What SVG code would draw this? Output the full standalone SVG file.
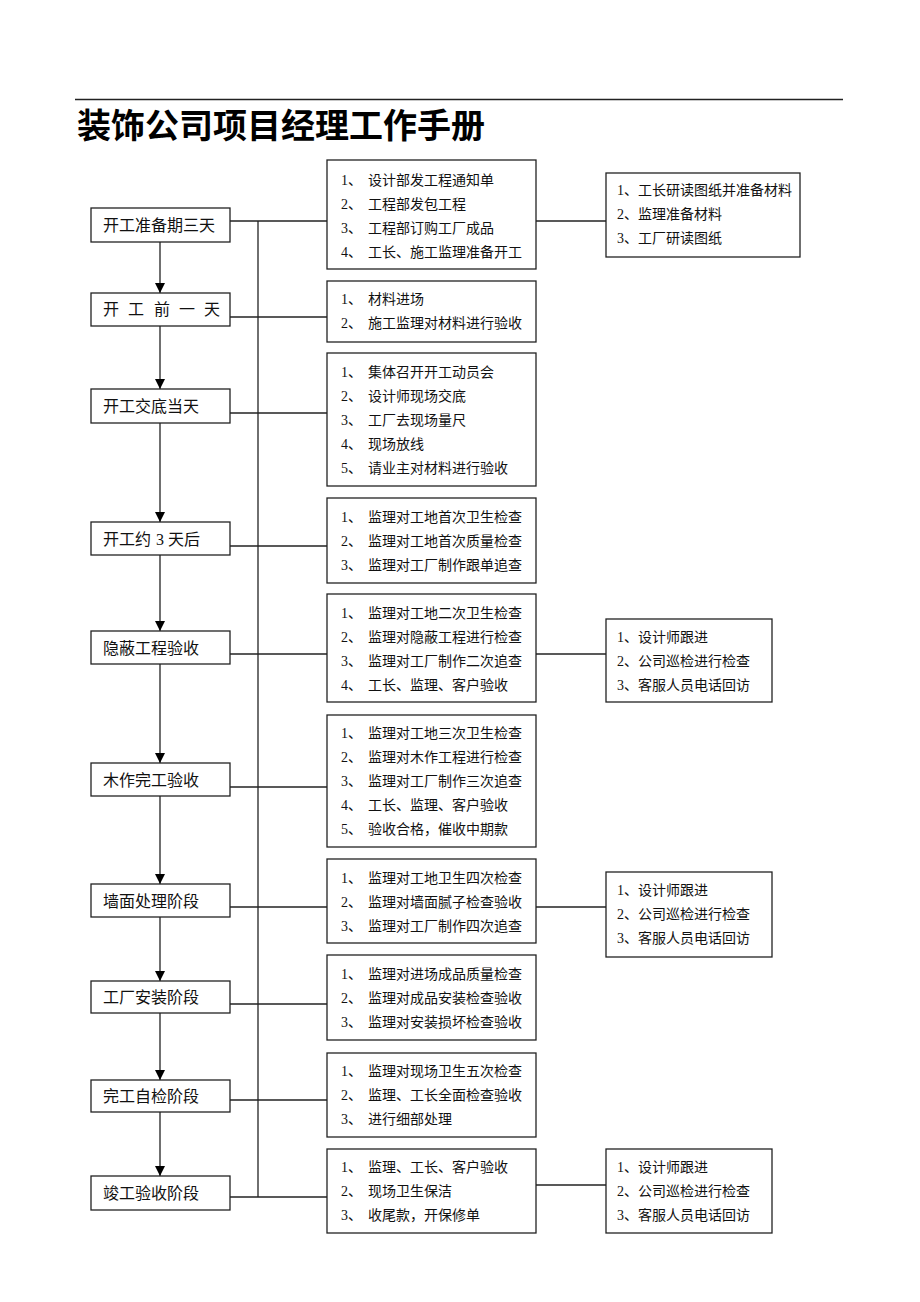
<svg xmlns="http://www.w3.org/2000/svg" width="920" height="1302" viewBox="0 0 920 1302">
<style>
.bg{fill:#fff}
.box{fill:#fff;stroke:#222;stroke-width:1.3}
.ln{stroke:#222;stroke-width:1.3;fill:none}
.t{font-family:"Liberation Serif","Noto Sans CJK SC",serif;font-size:14px;fill:#111}
.lt{font-family:"Liberation Serif","Noto Sans CJK SC",serif;font-size:16px;fill:#111}
.title{font-family:"Liberation Sans","Noto Sans CJK SC",sans-serif;font-size:34px;font-weight:bold;fill:#000}
</style>
<defs>
<marker id="ah" viewBox="0 0 10 10" refX="10" refY="5" markerWidth="10" markerHeight="10" markerUnits="userSpaceOnUse" orient="auto">
<path d="M0,0 L10,5 L0,10 Z" fill="#000"/>
</marker>
</defs>
<rect class="bg" x="0" y="0" width="920" height="1302"/>
<line class="ln" x1="75" y1="99.5" x2="843" y2="99.5"/>
<text class="title" x="77" y="138">装饰公司项目经理工作手册</text>

<g id="connectors">
<line class="ln" x1="258" y1="221" x2="258" y2="1197"/>
<line class="ln" x1="230" y1="221" x2="327" y2="221"/>
<line class="ln" x1="230" y1="317" x2="327" y2="317"/>
<line class="ln" x1="230" y1="413" x2="327" y2="413"/>
<line class="ln" x1="230" y1="546" x2="327" y2="546"/>
<line class="ln" x1="230" y1="654" x2="327" y2="654"/>
<line class="ln" x1="230" y1="787" x2="327" y2="787"/>
<line class="ln" x1="230" y1="907" x2="327" y2="907"/>
<line class="ln" x1="230" y1="1004" x2="327" y2="1004"/>
<line class="ln" x1="230" y1="1100" x2="327" y2="1100"/>
<line class="ln" x1="230" y1="1197" x2="327" y2="1197"/>
<line class="ln" x1="536" y1="221" x2="606" y2="221"/>
<line class="ln" x1="536" y1="654" x2="606" y2="654"/>
<line class="ln" x1="536" y1="907" x2="606" y2="907"/>
<line class="ln" x1="536" y1="1185" x2="606" y2="1185"/>
<line class="ln" x1="160" y1="242" x2="160" y2="293" marker-end="url(#ah)"/>
<line class="ln" x1="160" y1="326" x2="160" y2="389" marker-end="url(#ah)"/>
<line class="ln" x1="160" y1="423" x2="160" y2="522" marker-end="url(#ah)"/>
<line class="ln" x1="160" y1="555" x2="160" y2="631" marker-end="url(#ah)"/>
<line class="ln" x1="160" y1="664" x2="160" y2="763" marker-end="url(#ah)"/>
<line class="ln" x1="160" y1="796" x2="160" y2="884" marker-end="url(#ah)"/>
<line class="ln" x1="160" y1="917" x2="160" y2="981" marker-end="url(#ah)"/>
<line class="ln" x1="160" y1="1013" x2="160" y2="1080" marker-end="url(#ah)"/>
<line class="ln" x1="160" y1="1112" x2="160" y2="1176" marker-end="url(#ah)"/>
</g>

<g id="stage1"><rect class="box" x="91" y="208" width="139" height="34"/><text class="lt" x="103" y="231">开工准备期三天</text></g>
<g id="stage2"><rect class="box" x="91" y="293" width="139" height="33"/><text class="lt" y="315"><tspan x="103">开</tspan><tspan x="128">工</tspan><tspan x="154">前</tspan><tspan x="179">一</tspan><tspan x="204">天</tspan></text></g>
<g id="stage3"><rect class="box" x="91" y="389" width="139" height="34"/><text class="lt" x="103" y="412">开工交底当天</text></g>
<g id="stage4"><rect class="box" x="91" y="522" width="139" height="33"/><text class="lt" y="545"><tspan x="103">开工约</tspan><tspan x="156">3</tspan><tspan x="168">天后</tspan></text></g>
<g id="stage5"><rect class="box" x="91" y="631" width="139" height="33"/><text class="lt" x="103" y="654">隐蔽工程验收</text></g>
<g id="stage6"><rect class="box" x="91" y="763" width="139" height="33"/><text class="lt" x="103" y="786">木作完工验收</text></g>
<g id="stage7"><rect class="box" x="91" y="884" width="139" height="33"/><text class="lt" x="103" y="907">墙面处理阶段</text></g>
<g id="stage8"><rect class="box" x="91" y="981" width="139" height="32"/><text class="lt" x="103" y="1003">工厂安装阶段</text></g>
<g id="stage9"><rect class="box" x="91" y="1080" width="139" height="32"/><text class="lt" x="103" y="1102">完工自检阶段</text></g>
<g id="stage10"><rect class="box" x="91" y="1176" width="139" height="34"/><text class="lt" x="103" y="1199">竣工验收阶段</text></g>

<g id="tasks1"><rect class="box" x="327" y="160" width="209" height="109"/>
<text class="t" y="185"><tspan x="341">1、</tspan><tspan x="368">设计部发工程通知单</tspan></text>
<text class="t" y="209"><tspan x="341">2、</tspan><tspan x="368">工程部发包工程</tspan></text>
<text class="t" y="233"><tspan x="341">3、</tspan><tspan x="368">工程部订购工厂成品</tspan></text>
<text class="t" y="257"><tspan x="341">4、</tspan><tspan x="368">工长、施工监理准备开工</tspan></text></g>
<g id="tasks2"><rect class="box" x="327" y="281" width="209" height="61"/>
<text class="t" y="304"><tspan x="341">1、</tspan><tspan x="368">材料进场</tspan></text>
<text class="t" y="328"><tspan x="341">2、</tspan><tspan x="368">施工监理对材料进行验收</tspan></text></g>
<g id="tasks3"><rect class="box" x="327" y="353" width="209" height="133"/>
<text class="t" y="377"><tspan x="341">1、</tspan><tspan x="368">集体召开开工动员会</tspan></text>
<text class="t" y="401"><tspan x="341">2、</tspan><tspan x="368">设计师现场交底</tspan></text>
<text class="t" y="425"><tspan x="341">3、</tspan><tspan x="368">工厂去现场量尺</tspan></text>
<text class="t" y="449"><tspan x="341">4、</tspan><tspan x="368">现场放线</tspan></text>
<text class="t" y="473"><tspan x="341">5、</tspan><tspan x="368">请业主对材料进行验收</tspan></text></g>
<g id="tasks4"><rect class="box" x="327" y="498" width="209" height="85"/>
<text class="t" y="522"><tspan x="341">1、</tspan><tspan x="368">监理对工地首次卫生检查</tspan></text>
<text class="t" y="546"><tspan x="341">2、</tspan><tspan x="368">监理对工地首次质量检查</tspan></text>
<text class="t" y="570"><tspan x="341">3、</tspan><tspan x="368">监理对工厂制作跟单追查</tspan></text></g>
<g id="tasks5"><rect class="box" x="327" y="594" width="209" height="108"/>
<text class="t" y="618"><tspan x="341">1、</tspan><tspan x="368">监理对工地二次卫生检查</tspan></text>
<text class="t" y="642"><tspan x="341">2、</tspan><tspan x="368">监理对隐蔽工程进行检查</tspan></text>
<text class="t" y="666"><tspan x="341">3、</tspan><tspan x="368">监理对工厂制作二次追查</tspan></text>
<text class="t" y="690"><tspan x="341">4、</tspan><tspan x="368">工长、监理、客户验收</tspan></text></g>
<g id="tasks6"><rect class="box" x="327" y="715" width="209" height="132"/>
<text class="t" y="738"><tspan x="341">1、</tspan><tspan x="368">监理对工地三次卫生检查</tspan></text>
<text class="t" y="762"><tspan x="341">2、</tspan><tspan x="368">监理对木作工程进行检查</tspan></text>
<text class="t" y="786"><tspan x="341">3、</tspan><tspan x="368">监理对工厂制作三次追查</tspan></text>
<text class="t" y="810"><tspan x="341">4、</tspan><tspan x="368">工长、监理、客户验收</tspan></text>
<text class="t" y="834"><tspan x="341">5、</tspan><tspan x="368">验收合格，催收中期款</tspan></text></g>
<g id="tasks7"><rect class="box" x="327" y="859" width="209" height="84"/>
<text class="t" y="883"><tspan x="341">1、</tspan><tspan x="368">监理对工地卫生四次检查</tspan></text>
<text class="t" y="907"><tspan x="341">2、</tspan><tspan x="368">监理对墙面腻子检查验收</tspan></text>
<text class="t" y="931"><tspan x="341">3、</tspan><tspan x="368">监理对工厂制作四次追查</tspan></text></g>
<g id="tasks8"><rect class="box" x="327" y="955" width="209" height="85"/>
<text class="t" y="979"><tspan x="341">1、</tspan><tspan x="368">监理对进场成品质量检查</tspan></text>
<text class="t" y="1003"><tspan x="341">2、</tspan><tspan x="368">监理对成品安装检查验收</tspan></text>
<text class="t" y="1027"><tspan x="341">3、</tspan><tspan x="368">监理对安装损坏检查验收</tspan></text></g>
<g id="tasks9"><rect class="box" x="327" y="1053" width="209" height="84"/>
<text class="t" y="1076"><tspan x="341">1、</tspan><tspan x="368">监理对现场卫生五次检查</tspan></text>
<text class="t" y="1100"><tspan x="341">2、</tspan><tspan x="368">监理、工长全面检查验收</tspan></text>
<text class="t" y="1124"><tspan x="341">3、</tspan><tspan x="368">进行细部处理</tspan></text></g>
<g id="tasks10"><rect class="box" x="327" y="1149" width="209" height="84"/>
<text class="t" y="1172"><tspan x="341">1、</tspan><tspan x="368">监理、工长、客户验收</tspan></text>
<text class="t" y="1196"><tspan x="341">2、</tspan><tspan x="368">现场卫生保洁</tspan></text>
<text class="t" y="1220"><tspan x="341">3、</tspan><tspan x="368">收尾款，开保修单</tspan></text></g>

<g id="follow1"><rect class="box" x="606" y="173" width="194" height="84"/>
<text class="t" x="617" y="195">1、工长研读图纸并准备材料</text>
<text class="t" x="617" y="219">2、监理准备材料</text>
<text class="t" x="617" y="243">3、工厂研读图纸</text></g>
<g id="follow2"><rect class="box" x="606" y="619" width="166" height="83"/>
<text class="t" x="617" y="642">1、设计师跟进</text>
<text class="t" x="617" y="666">2、公司巡检进行检查</text>
<text class="t" x="617" y="690">3、客服人员电话回访</text></g>
<g id="follow3"><rect class="box" x="606" y="872" width="166" height="85"/>
<text class="t" x="617" y="895">1、设计师跟进</text>
<text class="t" x="617" y="919">2、公司巡检进行检查</text>
<text class="t" x="617" y="943">3、客服人员电话回访</text></g>
<g id="follow4"><rect class="box" x="606" y="1149" width="166" height="84"/>
<text class="t" x="617" y="1172">1、设计师跟进</text>
<text class="t" x="617" y="1196">2、公司巡检进行检查</text>
<text class="t" x="617" y="1220">3、客服人员电话回访</text></g>
</svg>
